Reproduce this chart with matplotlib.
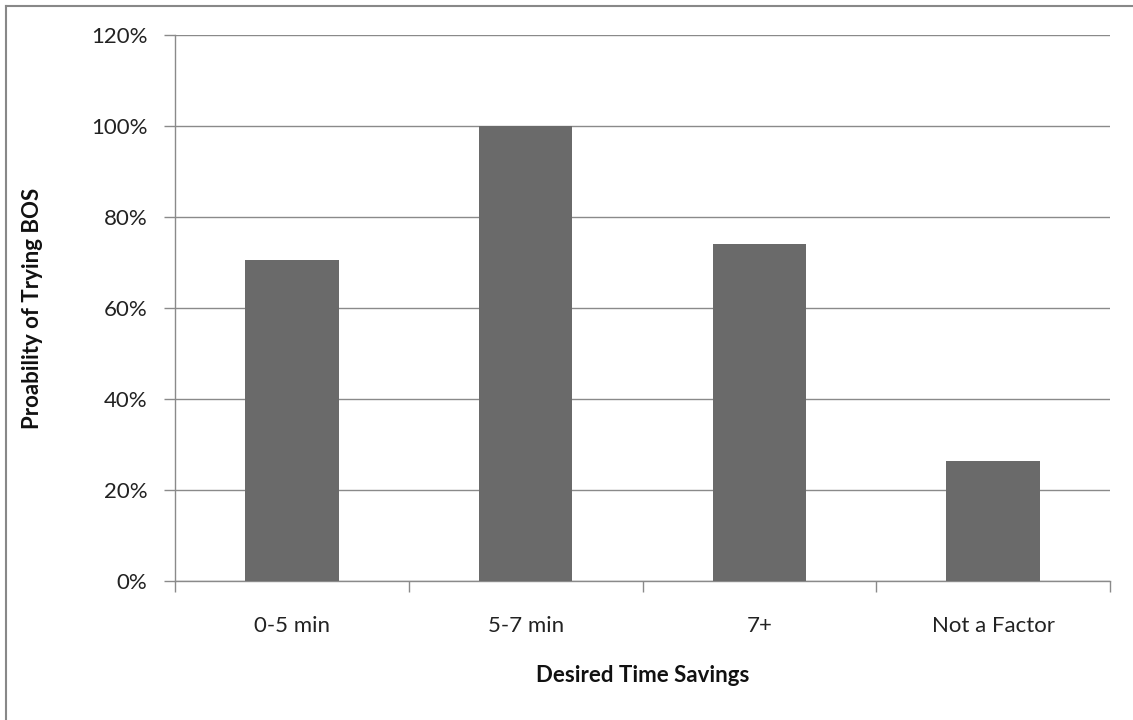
import matplotlib
matplotlib.use("Agg")
import matplotlib.pyplot as plt
from matplotlib.ticker import PercentFormatter, FixedLocator
from matplotlib.lines import Line2D

categories = ["0-5 min", "5-7 min", "7+", "Not a Factor"]
values = [70.5, 100.0, 74.0, 26.4]
yticks = [0, 20, 40, 60, 80, 100, 120]

plt.rcParams['font.family'] = ['Lato', 'DejaVu Sans']

fig = plt.figure(figsize=(11.33, 7.2), dpi=100)
ax = fig.add_axes([175/1133, 1-581/720, (1110-175)/1133, (581-35)/720])

x = list(range(len(categories)))
ax.bar(x, values, width=0.4, color='#6a6a6a', zorder=3)

ax.set_xlim(-0.5, len(categories) - 0.5)
ax.set_ylim(0, 120)
ax.set_yticks(yticks)
ax.yaxis.set_major_formatter(PercentFormatter(decimals=0))
ax.set_xticks(x)
ax.set_xticklabels(categories)
ax.xaxis.set_minor_locator(FixedLocator([i - 0.5 for i in range(len(categories) + 1)]))

ax.grid(axis='y', color='#8a8a8a', linewidth=1.0, zorder=0)
for s in ['top', 'right']:
    ax.spines[s].set_visible(False)
for s in ['left', 'bottom']:
    ax.spines[s].set_color('#8a8a8a')
    ax.spines[s].set_linewidth(1.0)

ax.tick_params(axis='y', length=8, width=1, color='#8a8a8a', labelsize=16, pad=12, labelcolor='#222222')
ax.tick_params(axis='x', which='major', length=0, labelsize=16, pad=25, labelcolor='#222222')
ax.tick_params(axis='x', which='minor', length=8, width=1, color='#8a8a8a')

ax.set_ylabel("Proability of Trying BOS", fontsize=16, fontweight='bold', color='#111111',
              va='center', ha='center')
ax.yaxis.set_label_coords((33 - 175) / 935, 0.5)
ax.set_xlabel("Desired Time Savings", fontsize=16, fontweight='bold', color='#111111',
              va='center', ha='center')
ax.xaxis.set_label_coords((643 - 175) / 935, (581 - 676) / 546)

# outer frame (top and left edges visible)
fig.add_artist(Line2D([6/1133, 1], [1-6/720, 1-6/720], transform=fig.transFigure, color='#888888', linewidth=1.5))
fig.add_artist(Line2D([6/1133, 6/1133], [0, 1-6/720], transform=fig.transFigure, color='#888888', linewidth=1.5))

fig.savefig("out.png", dpi=100)
